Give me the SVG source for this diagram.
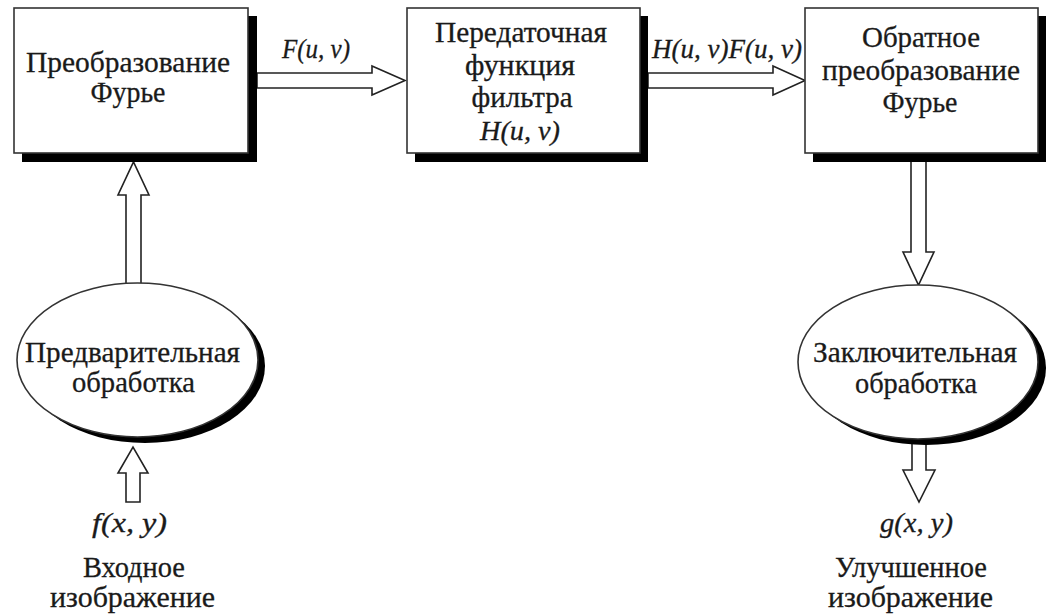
<svg xmlns="http://www.w3.org/2000/svg" width="1048" height="616" viewBox="0 0 1048 616">
<style>
.bg{fill:#ffffff}
.box{fill:#ffffff;stroke:#333;stroke-width:1.6}
.shadow{fill:#000}
.arrow{fill:#ffffff;stroke:#222;stroke-width:1.6;stroke-linejoin:miter}
.t{font-family:"Liberation Serif","Times New Roman",serif;font-size:29px;fill:#1a1a1a;stroke:#1a1a1a;stroke-width:0.3;text-anchor:middle}
.it{font-style:italic;font-size:28px}
</style>
<rect class="bg" x="0" y="0" width="1048" height="616"/>
<g id="connectors">
<polygon class="arrow" points="257,73 372,73 372,66 405,80.5 372,95 372,88 257,88"/>
<polygon class="arrow" points="648,73 773,73 773,66 805,80.5 773,95 773,88 648,88"/>
<polygon class="arrow" points="126,285 126,195 118,195 133.5,162 149,195 141,195 141,285"/>
<polygon class="arrow" points="126,502 126,473 118,473 133,447 148,473 140,473 140,502"/>
<polygon class="arrow" points="911,161 911,252 903,252 918.5,285 934,252 926,252 926,161"/>
<polygon class="arrow" points="912,443 912,470 903,470 919,502 935,470 926,470 926,443"/>
<text class="t it" x="316" y="58" textLength="68" lengthAdjust="spacingAndGlyphs">F(u, v)</text>
<text class="t it" x="727" y="58" textLength="150" lengthAdjust="spacingAndGlyphs">H(u, v)F(u, v)</text>
</g>
<g id="fourier">
<rect class="shadow" x="22" y="16" width="235" height="146"/>
<rect class="box" x="14" y="8" width="234" height="145"/>
<text class="t" x="128" y="72" textLength="204" lengthAdjust="spacingAndGlyphs">Преобразование</text>
<text class="t" x="128" y="102" textLength="75" lengthAdjust="spacingAndGlyphs">Фурье</text>
</g>
<g id="filter">
<rect class="shadow" x="415" y="16" width="233" height="146"/>
<rect class="box" x="407" y="8" width="233" height="145"/>
<text class="t" x="521" y="42" textLength="172" lengthAdjust="spacingAndGlyphs">Передаточная</text>
<text class="t" x="520" y="75" textLength="110" lengthAdjust="spacingAndGlyphs">функция</text>
<text class="t" x="522" y="107" textLength="101" lengthAdjust="spacingAndGlyphs">фильтра</text>
<text class="t it" x="520" y="140" textLength="80" lengthAdjust="spacingAndGlyphs">H(u, v)</text>
</g>
<g id="inverse">
<rect class="shadow" x="813" y="16" width="233" height="146"/>
<rect class="box" x="805" y="8" width="233" height="145"/>
<text class="t" x="921" y="47" textLength="118" lengthAdjust="spacingAndGlyphs">Обратное</text>
<text class="t" x="921" y="80" textLength="198" lengthAdjust="spacingAndGlyphs">преобразование</text>
<text class="t" x="920" y="112" textLength="75" lengthAdjust="spacingAndGlyphs">Фурье</text>
</g>
<g id="preprocess">
<ellipse class="shadow" cx="145" cy="366" rx="120" ry="77"/>
<ellipse class="box" cx="137.5" cy="360" rx="120.5" ry="77"/>
<text class="t" x="132.5" y="362" textLength="215" lengthAdjust="spacingAndGlyphs">Предварительная</text>
<text class="t" x="133.5" y="392" textLength="123" lengthAdjust="spacingAndGlyphs">обработка</text>
</g>
<g id="postprocess">
<ellipse class="shadow" cx="926" cy="368" rx="120" ry="77"/>
<ellipse class="box" cx="918" cy="362" rx="120" ry="77"/>
<text class="t" x="915" y="362" textLength="204" lengthAdjust="spacingAndGlyphs">Заключительная</text>
<text class="t" x="916" y="393" textLength="122" lengthAdjust="spacingAndGlyphs">обработка</text>
</g>
<g id="input">
<text class="t it" x="129.5" y="532" textLength="75" lengthAdjust="spacingAndGlyphs">f(x, y)</text>
<text class="t" x="134" y="577" textLength="102" lengthAdjust="spacingAndGlyphs">Входное</text>
<text class="t" x="132.5" y="607" textLength="165" lengthAdjust="spacingAndGlyphs">изображение</text>
</g>
<g id="output">
<text class="t it" x="916.5" y="532" textLength="73" lengthAdjust="spacingAndGlyphs">g(x, y)</text>
<text class="t" x="911" y="577" textLength="152" lengthAdjust="spacingAndGlyphs">Улучшенное</text>
<text class="t" x="910.5" y="607" textLength="165" lengthAdjust="spacingAndGlyphs">изображение</text>
</g>
</svg>
